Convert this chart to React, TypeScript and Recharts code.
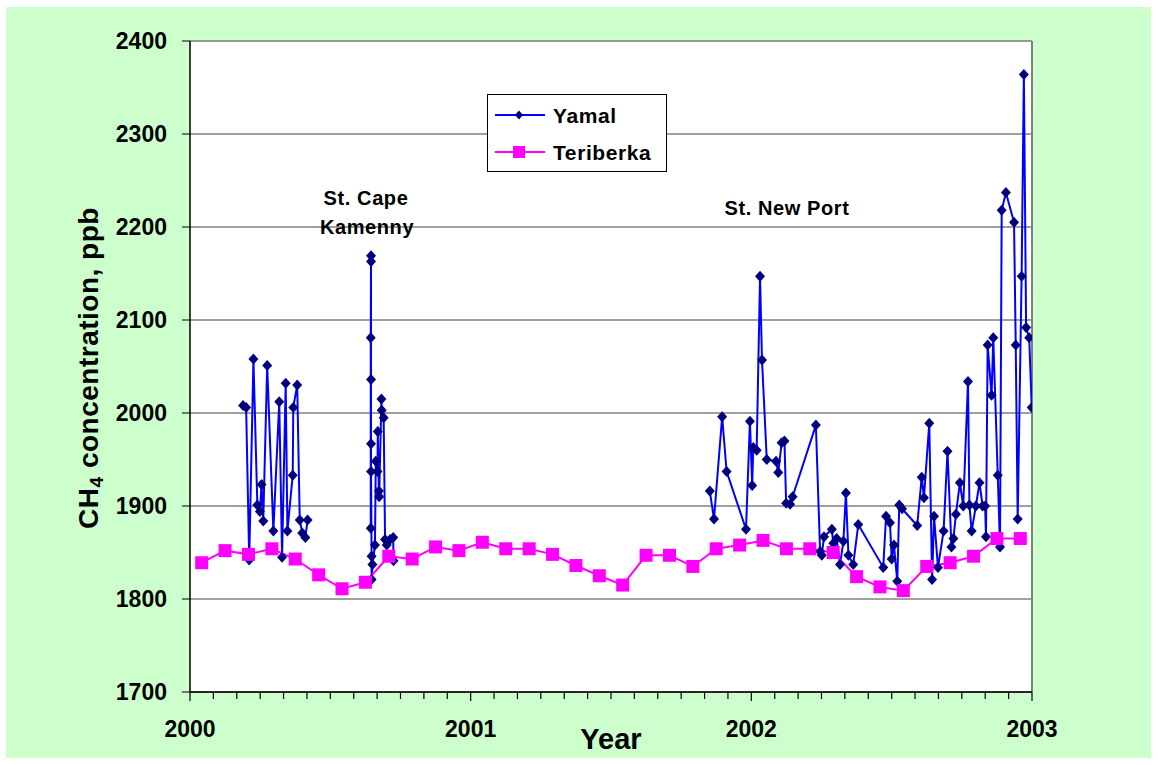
import { ComposedChart, Line, XAxis, YAxis, CartesianGrid, ReferenceLine } from 'recharts'

const FONT = "'Liberation Sans', Arial, Helvetica, sans-serif"

const yearTicks = [2000, 2001, 2002, 2003]
const ppbTicks = [1700, 1800, 1900, 2000, 2100, 2200, 2300, 2400]

// Teriberka, monthly means
const teriberkaMonths = [
  '2000-01', '2000-02', '2000-03', '2000-04', '2000-05', '2000-06',
  '2000-07', '2000-08', '2000-09', '2000-10', '2000-11', '2000-12',
  '2001-01', '2001-02', '2001-03', '2001-04', '2001-05', '2001-06',
  '2001-07', '2001-08', '2001-09', '2001-10', '2001-11', '2001-12',
  '2002-01', '2002-02', '2002-03', '2002-04', '2002-05', '2002-06',
  '2002-07', '2002-08', '2002-09', '2002-10', '2002-11', '2002-12',
]
const teriberkaPpb = [
  1839, 1852, 1848, 1854, 1843, 1826, 1811, 1818, 1846, 1843, 1856, 1852,
  1861, 1854, 1854, 1848, 1836, 1825, 1815, 1847, 1847, 1835, 1854, 1858,
  1863, 1854, 1854, 1850, 1824, 1813, 1809, 1835, 1839, 1846, 1865, 1865,
]

// Yamal, spring 2000 (decimal year)
const yamal2000Year = [
  2000.189, 2000.2, 2000.211, 2000.226, 2000.24, 2000.249, 2000.255, 2000.261,
  2000.275, 2000.297, 2000.318, 2000.328, 2000.341, 2000.347, 2000.366, 2000.368,
  2000.382, 2000.391, 2000.4, 2000.411, 2000.419,
]
const yamal2000Ppb = [
  2008, 2006, 1842, 2058, 1901, 1894, 1923, 1884,
  2051, 1873, 2012, 1845, 2032, 1873, 1933, 2006,
  2030, 1885, 1871, 1866, 1885,
]

// Yamal, St. Cape Kamenny, autumn 2000
const kamennyYear = [
  2000.644, 2000.644, 2000.645, 2000.645, 2000.645, 2000.645, 2000.645, 2000.647,
  2000.647, 2000.65, 2000.659, 2000.662, 2000.668, 2000.669, 2000.673, 2000.674,
  2000.682, 2000.683, 2000.69, 2000.695, 2000.701, 2000.713, 2000.724, 2000.725,
]
const kamennyPpb = [
  1876, 2081, 2169, 2163, 2036, 1967, 1937, 1846,
  1821, 1837, 1858, 1948, 1937, 1980, 1916, 1910,
  2015, 2003, 1995, 1864, 1858, 1864, 1866, 1841,
]

// Yamal, St. New Port, 2001-2002
const newPortYear = [
  2001.852, 2001.867, 2001.896, 2001.912, 2001.981, 2001.995, 2002.003, 2002.007,
  2002.019, 2002.031, 2002.038, 2002.055, 2002.088, 2002.096, 2002.108, 2002.118,
  2002.124, 2002.138, 2002.147, 2002.23, 2002.245, 2002.251, 2002.259, 2002.287,
  2002.292, 2002.304, 2002.316, 2002.328, 2002.337, 2002.346, 2002.363, 2002.381,
  2002.47, 2002.48, 2002.494, 2002.5, 2002.508, 2002.52, 2002.527, 2002.537,
  2002.591, 2002.607, 2002.615, 2002.634, 2002.644, 2002.651, 2002.665, 2002.685,
  2002.699, 2002.713, 2002.72, 2002.729, 2002.743, 2002.755, 2002.772, 2002.777,
  2002.785, 2002.8, 2002.813, 2002.824, 2002.833, 2002.836, 2002.842, 2002.856,
  2002.862, 2002.878, 2002.886, 2002.892, 2002.907, 2002.936, 2002.942, 2002.949,
  2002.963, 2002.971, 2002.979, 2002.99, 2002.999,
]
const newPortPpb = [
  1916, 1886, 1996, 1937, 1875, 1991, 1922, 1963,
  1960, 2147, 2057, 1950, 1948, 1936, 1968, 1970,
  1903, 1902, 1910, 1987, 1851, 1847, 1867, 1875,
  1860, 1865, 1837, 1862, 1914, 1847, 1837, 1880,
  1834, 1889, 1882, 1843, 1858, 1819, 1901, 1897,
  1879, 1931, 1909, 1989, 1821, 1889, 1834, 1873,
  1959, 1856, 1865, 1891, 1925, 1900, 2034, 1901,
  1873, 1900, 1925, 1900, 1900, 1867, 2073, 2019,
  2081, 1933, 1856, 2218, 2237, 2205, 2073, 1886,
  2147, 2364, 2092, 2081, 2006,
]

type Pt = { x: number; ppb: number | null }

const zip = (xs: number[], ys: number[]): Pt[] => xs.map((x, i) => ({ x, ppb: ys[i] }))

const monthMid = (m: string) => {
  const [y, mo] = m.split('-').map(Number)
  return y + (mo - 0.5) / 12
}

const teriberkaData: Pt[] = teriberkaMonths.map((m, i) => ({ x: monthMid(m), ppb: teriberkaPpb[i] }))

// null rows break the line between campaigns
const yamalData: Pt[] = [
  ...zip(yamal2000Year, yamal2000Ppb),
  { x: 2000.5, ppb: null },
  ...zip(kamennyYear, kamennyPpb),
  { x: 2001.3, ppb: null },
  ...zip(newPortYear, newPortPpb),
]

const monthTicks: number[] = []
for (let i = 0; i <= 36; i++) monthTicks.push(yearTicks[0] + i / 12)

function YearTick({ x, y, payload }: any) {
  const v = payload.value
  const major = yearTicks.some((t) => Math.abs(t - v) < 1e-6)
  return (
    <g>
      <line x1={x} x2={x} y1={y} y2={y + (major ? 9 : 7)} stroke="#000" strokeWidth={1.2} />
      {major && (
        <text x={x} y={y + 45} textAnchor="middle" fontSize={23} fontWeight="bold" fontFamily={FONT} fill="#000">
          {Math.round(v)}
        </text>
      )}
    </g>
  )
}

function Diamond(p: any) {
  const { cx, cy, index, payload } = p
  if (cx == null || cy == null || payload?.ppb == null) return <g key={`y${index}`} />
  return (
    <polygon
      key={`y${index}`}
      points={`${cx},${cy - 5.5} ${cx + 5},${cy} ${cx},${cy + 5.5} ${cx - 5},${cy}`}
      fill="#000080"
    />
  )
}

function Square(p: any) {
  const { cx, cy, index } = p
  if (cx == null || cy == null) return <g key={`t${index}`} />
  return <rect key={`t${index}`} x={cx - 6.5} y={cy - 6.5} width={13} height={13} fill="#ff00ff" />
}

const labelStyle = { fontFamily: FONT, fontWeight: 'bold' as const, fill: '#000' }

export default function App() {
  return (
    <div style={{ position: 'absolute', left: 0, top: 0, width: 1158, height: 765, background: '#fff', fontFamily: FONT }}>
      <div style={{ position: 'absolute', left: 6, top: 7, width: 1145, height: 751, background: '#ccffcc' }} />
      <div style={{ position: 'absolute', left: 0, top: 0 }}>
        <ComposedChart width={1158} height={765} margin={{ top: 41, right: 126, bottom: 43, left: 130 }}>
          <CartesianGrid horizontal vertical={false} stroke="#404040" fill="#fff" />
          <XAxis
            type="number"
            dataKey="x"
            domain={[2000, 2003]}
            ticks={monthTicks}
            interval={0}
            allowDataOverflow
            height={30}
            tickSize={0}
            tickMargin={0}
            tickLine={false}
            tick={<YearTick />}
            axisLine={{ stroke: '#000', strokeWidth: 1.5 }}
          />
          <YAxis
            type="number"
            domain={[1700, 2400]}
            ticks={ppbTicks}
            interval={0}
            allowDataOverflow
            width={60}
            tickSize={8}
            tickMargin={15}
            tickLine={{ stroke: '#000' }}
            axisLine={{ stroke: '#000', strokeWidth: 1.5 }}
            tick={{ fontSize: 23, fontWeight: 'bold', fontFamily: FONT, fill: '#000' }}
          />
          <ReferenceLine x={2003} stroke="#808080" strokeWidth={2} />
          <Line
            data={yamalData}
            dataKey="ppb"
            type="linear"
            stroke="#0000ff"
            strokeWidth={2}
            dot={Diamond}
            activeDot={false}
            connectNulls={false}
            isAnimationActive={false}
          />
          <Line
            data={teriberkaData}
            dataKey="ppb"
            type="linear"
            stroke="#ff00ff"
            strokeWidth={2}
            dot={Square}
            activeDot={false}
            isAnimationActive={false}
          />
        </ComposedChart>
      </div>
      <svg width={1158} height={765} style={{ position: 'absolute', left: 0, top: 0, pointerEvents: 'none' }}>
        <text
          transform="translate(98,368) rotate(-90)"
          textAnchor="middle"
          fontSize={28}
          letterSpacing={0.5}
          {...labelStyle}
        >
          CH<tspan fontSize={19} dy={5}>4</tspan>
          <tspan dy={-5}> concentration, ppb</tspan>
        </text>
        <text x={611} y={749} textAnchor="middle" fontSize={29} {...labelStyle}>
          Year
        </text>
        <text x={366} y={205} textAnchor="middle" fontSize={20} letterSpacing={0.6} {...labelStyle}>
          St. Cape
        </text>
        <text x={367} y={234} textAnchor="middle" fontSize={20} letterSpacing={0.6} {...labelStyle}>
          Kamenny
        </text>
        <text x={787} y={215} textAnchor="middle" fontSize={20} letterSpacing={0.6} {...labelStyle}>
          St. New Port
        </text>
        <g transform="translate(487,94)">
          <rect x={0.5} y={0.5} width={179} height={77} fill="#fff" stroke="#000" strokeWidth={1} />
          <line x1={8} x2={58} y1={21} y2={21} stroke="#0000ff" strokeWidth={2} />
          <polygon points="32,16.5 36,21 32,25.5 28,21" fill="#000080" />
          <text x={66} y={29} fontSize={21} letterSpacing={0.6} {...labelStyle}>
            Yamal
          </text>
          <line x1={8} x2={58} y1={58} y2={58} stroke="#ff00ff" strokeWidth={2} />
          <rect x={26} y={52} width={12} height={12} fill="#ff00ff" />
          <text x={66} y={66} fontSize={21} letterSpacing={0.6} {...labelStyle}>
            Teriberka
          </text>
        </g>
      </svg>
    </div>
  )
}
